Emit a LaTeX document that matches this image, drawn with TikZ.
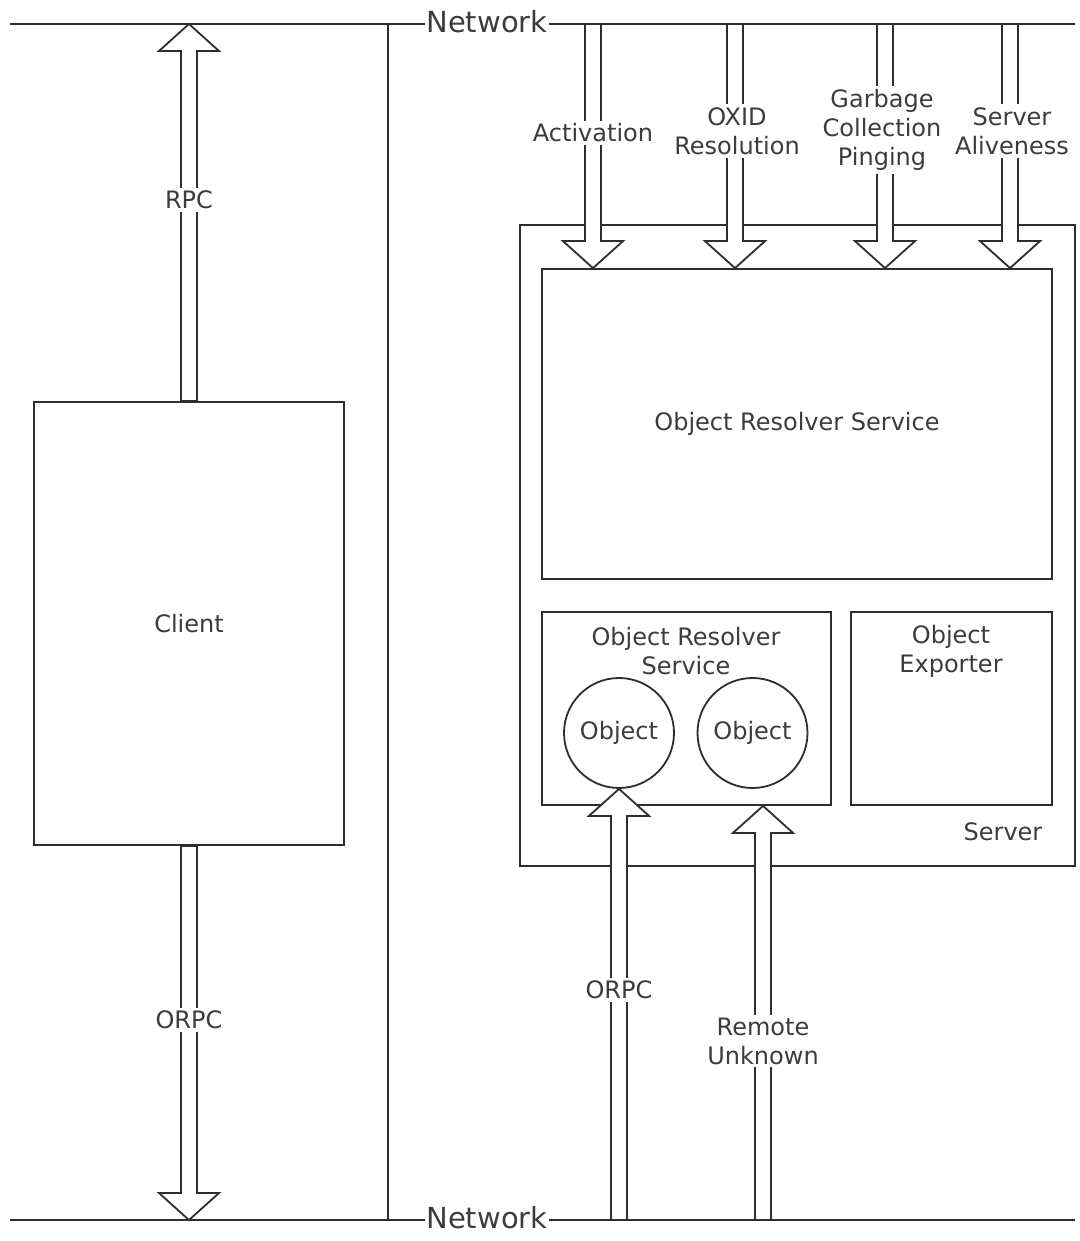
\documentclass[tikz,border=0pt]{standalone}
\usepackage{fontspec}
\setmainfont{DejaVu Sans}
\usetikzlibrary{calc}
\definecolor{inkline}{HTML}{2E2E2E}
\definecolor{inktext}{HTML}{3C3C3C}
\tikzset{
  box/.style={draw=inkline, fill=white},
  lbl/.style={fill=white, inner sep=3pt, align=center},
  netlbl/.style={fill=white, inner sep=1pt, font=\fontsize{29}{34}\selectfont},
  fatarrow/.style={draw=inkline, fill=white, line join=miter},
}
% block arrow from tail to tip (vertical only)
\newcommand{\blockarrow}[2]{%
  \draw[fatarrow] let \p1=(#1), \p2=(#2), \n1={sign(\y2-\y1)*27} in
    ({\x1-8},\y1) -- ({\x1-8},{\y2-(\n1)}) -- ({\x1-30},{\y2-(\n1)}) -- (\x1,\y2)
    -- ({\x1+30},{\y2-(\n1)}) -- ({\x1+8},{\y2-(\n1)}) -- ({\x1+8},\y1) -- cycle;}
\begin{document}
\begin{tikzpicture}[x=1pt, y=-1pt, line width=1.8pt, text=inktext,
    font=\fontsize{24}{29}\selectfont]
    \useasboundingbox (0,0) rectangle (1079,1241);
    % network
    \coordinate (netA) at (10,24);
    \coordinate (netB) at (1075,24);
    \coordinate (netC) at (10,1220);
    \coordinate (netD) at (1075,1220);
    \coordinate (wallT) at (388,24);
    \coordinate (wallB) at (388,1220);
    \draw [inkline] (netA) -- (netB);
    \draw [inkline] (netC) -- (netD);
    \draw [inkline] (wallT) -- (wallB);
    \node [netlbl] (nettop) at (487,22) {Network};
    \node [netlbl] (netbot) at (487,1218) {Network};
    % client
    \node [box, minimum width=310pt, minimum height=443pt] (client) at (189,623.5) {Client};
    % server
    \node [box, minimum width=555pt, minimum height=641pt] (server) at (797.5,545.5) {};
    \node (srvlbl) at (1003,832) {Server};
    \node [box, minimum width=510pt, minimum height=310pt] (ors) at (797,424) {Object Resolver Service};
    \node [box, minimum width=289pt, minimum height=193pt] (orsb) at (686.5,708.5) {};
    \node [align=center] (orsblbl) at (686,651) {Object Resolver\\Service};
    \node [box, minimum width=201pt, minimum height=193pt] (exp) at (951.5,708.5) {};
    \node [align=center] (explbl) at (951,651) {Object\\Exporter};
    \node [circle, draw=inkline, minimum size=110pt, inner sep=0pt] (obj1) at (619,733) {Object};
    \node [circle, draw=inkline, minimum size=110pt, inner sep=0pt] (obj2) at (752.5,733) {Object};
    % arrows
    \coordinate (act) at (593,24);
    \coordinate (oxid) at (735,24);
    \coordinate (gcp) at (885,24);
    \coordinate (alive) at (1010,24);
    \coordinate (orpcS) at (619,1220);
    \coordinate (remS) at (763,1220);
    \blockarrow{client.north}{client.north |- netA}
    \blockarrow{client.south}{client.south |- netC}
    \blockarrow{act}{act |- ors.north}
    \blockarrow{oxid}{oxid |- ors.north}
    \blockarrow{gcp}{gcp |- ors.north}
    \blockarrow{alive}{alive |- ors.north}
    \blockarrow{orpcS}{obj1.south}
    \blockarrow{remS}{remS |- orsb.south}
    % lecter
    \node [lbl] (rpc) at (189,200) {RPC};
    \node [lbl] (orpcC) at (189,1020) {ORPC};
    \node [lbl] (actlbl) at (593,133) {Activation};
    \node [lbl] (oxidlbl) at (737,131) {OXID\\Resolution};
    \node [lbl] (gcplbl) at (882,130) {Garbage\\Collection\\Pinging};
    \node [lbl] (alivelbl) at (1012,131) {Server\\Aliveness};
    \node [lbl] (orpclbl) at (619,990) {ORPC};
    \node [lbl] (remlbl) at (763,1041) {Remote\\Unknown};
\end{tikzpicture}
\end{document}
